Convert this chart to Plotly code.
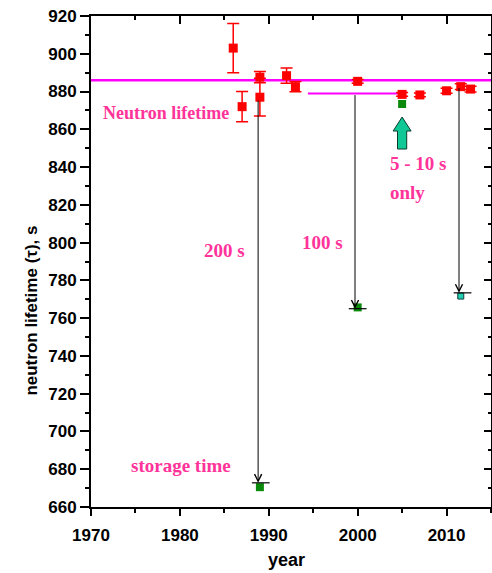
import plotly.graph_objects as go

# ---- data ----
beam_year = [1986, 1987, 1989, 1989, 1992, 1993, 2000, 2005, 2007, 2010, 2011.6, 2012.7]
beam_tau = [903, 872, 887.6, 877, 888.4, 882.6, 885.4, 878.5, 878.2, 880.4, 882.6, 881.3]
beam_err = [13, 8, 3, 10, 4, 2.7, 1.0, 1.0, 1.0, 1.3, 1.5, 1.5]

storage_year = [1989, 2000, 2005]
storage_tau = [670.5, 765.7, 873.4]

storage2_year = [2011.6]
storage2_tau = [771.7]

arrow_year = [1988.8, 1999.7, 2011.4]
arrow_from = [876.0, 878.9, 882.6]
arrow_to = [672.8, 765.0, 773.4]
arrow_bar_center = [1989.1, 2000.0, 2011.8]

mean_tau = 886.0
short_tau = 878.9
short_years = [1994.4, 2005.1]
green_arrow_year = 2005
green_arrow_tip = 866.5

x_ticks = [1970, 1980, 1990, 2000, 2010]
y_ticks = list(range(660, 921, 20))

PINK = "#ff3399"
MAG = "#ff00ff"
tickfont = dict(family="Liberation Sans", size=17, color="black", weight="bold")
labfont = dict(family="Liberation Serif", size=19, color=PINK, weight="bold")

fig = go.Figure()

fig.add_trace(go.Scatter(
    x=beam_year, y=beam_tau, mode="markers",
    marker=dict(symbol="square", size=9, color="#ff0000"),
    error_y=dict(type="data", array=beam_err, color="#ff0000", thickness=1.5, width=6),
    showlegend=False))

fig.add_trace(go.Scatter(
    x=storage_year, y=storage_tau, mode="markers",
    marker=dict(symbol="square", size=8, color="#0a8a0a"),
    showlegend=False))

fig.add_trace(go.Scatter(
    x=storage2_year, y=storage2_tau, mode="markers",
    marker=dict(symbol="square", size=6, color="#20d0b0", line=dict(color="#104040", width=1)),
    showlegend=False))

# dummy trace for the mirrored (top/right) axes
fig.add_trace(go.Scatter(x=[None], y=[None], xaxis="x2", yaxis="y2", showlegend=False, hoverinfo="skip"))

shapes = []
shapes.append(dict(type="line", xref="paper", yref="y", x0=0, x1=1, y0=mean_tau, y1=mean_tau,
                   line=dict(color=MAG, width=2.5), layer="below"))
shapes.append(dict(type="line", xref="x", yref="y", x0=short_years[0], x1=short_years[1],
                   y0=short_tau, y1=short_tau, line=dict(color=MAG, width=2), layer="below"))
for xc, yv in zip(arrow_bar_center, arrow_to):
    shapes.append(dict(type="line", xref="x", yref="y", x0=xc - 1.0, x1=xc + 1.0, y0=yv, y1=yv,
                       line=dict(color="black", width=1.2)))
shapes.append(dict(type="path", xref="x", yref="y", xsizemode="pixel", ysizemode="pixel",
                   xanchor=green_arrow_year, yanchor=green_arrow_tip,
                   path="M 0 0 L 9 -14 L 4.6 -14 L 4.6 -32 L -4.6 -32 L -4.6 -14 L -9 -14 Z",
                   fillcolor="#10c896", line=dict(color="#0a3a2a", width=1)))

annotations = []
for xa, y0, y1 in zip(arrow_year, arrow_from, arrow_to):
    annotations.append(dict(x=xa, y=y1, ax=xa, ay=y0, xref="x", yref="y", axref="x", ayref="y",
                            text="", showarrow=True, arrowhead=5, arrowsize=1.4, arrowwidth=1,
                            arrowcolor="black", standoff=0))

def lab(text, x, y, xanchor="center", size=19):
    f = dict(labfont)
    f["size"] = size
    annotations.append(dict(x=x, y=y, xref="x", yref="y", text=text, showarrow=False,
                            xanchor=xanchor, yanchor="middle", font=f))

lab("Neutron lifetime", 1978.4, 868.6, size=18)
lab("5 - 10 s", 2003.4, 842.1, xanchor="left")
lab("only", 2003.4, 826.3, xanchor="left")
lab("200 s", 1985.0, 796.0)
lab("100 s", 1996.0, 799.8)
lab("storage time", 1980.1, 682.2)

annotations.append(dict(x=-0.1475, y=0.40, xref="paper", yref="paper", text="neutron lifetime (τ), s",
                        textangle=-90, showarrow=False, xanchor="center", yanchor="middle",
                        font=dict(family="Liberation Sans", size=17, color="black", weight="bold")))
annotations.append(dict(x=0.4875, y=-0.108, xref="paper", yref="paper", text="year",
                        showarrow=False, xanchor="center", yanchor="middle",
                        font=dict(family="Liberation Sans", size=18, color="black", weight="bold")))

fig.update_layout(
    width=492, height=573,
    margin=dict(l=91, r=1, t=16, b=66),
    paper_bgcolor="white", plot_bgcolor="white",
    shapes=shapes, annotations=annotations,
    xaxis=dict(range=[1970, 2015], tickvals=x_ticks, ticktext=[str(v) for v in x_ticks],
               ticks="outside", ticklen=7, tickwidth=1.5, tickcolor="black", ticklabelstandoff=5,
               minor=dict(dtick=5, tick0=1970, ticks="outside", ticklen=4, tickwidth=1.5, tickcolor="black"),
               showline=True, linewidth=2, linecolor="black", showgrid=False, zeroline=False,
               tickfont=tickfont),
    yaxis=dict(range=[660, 920], tickvals=y_ticks, ticktext=[str(v) for v in y_ticks],
               ticks="outside", ticklen=9, tickwidth=1.5, tickcolor="black",
               minor=dict(dtick=10, tick0=660, ticks="outside", ticklen=4, tickwidth=1.5, tickcolor="black"),
               showline=True, linewidth=2, linecolor="black", showgrid=False, zeroline=False,
               tickfont=tickfont),
    xaxis2=dict(range=[1970, 2015], overlaying="x", side="top", anchor="y2",
                tickvals=x_ticks, showticklabels=False,
                ticks="inside", ticklen=8, tickwidth=1.5, tickcolor="black",
                minor=dict(dtick=5, tick0=1970, ticks="inside", ticklen=4, tickwidth=1.5, tickcolor="black"),
                showline=True, linewidth=2, linecolor="black", showgrid=False, zeroline=False),
    yaxis2=dict(range=[660, 920], overlaying="y", side="right", anchor="x2",
                tickvals=y_ticks, showticklabels=False,
                ticks="inside", ticklen=7, tickwidth=1.5, tickcolor="black",
                minor=dict(dtick=10, tick0=660, ticks="inside", ticklen=3, tickwidth=1.5, tickcolor="black"),
                showline=True, linewidth=2, linecolor="black", showgrid=False, zeroline=False),
)

fig.write_html("out.html")
